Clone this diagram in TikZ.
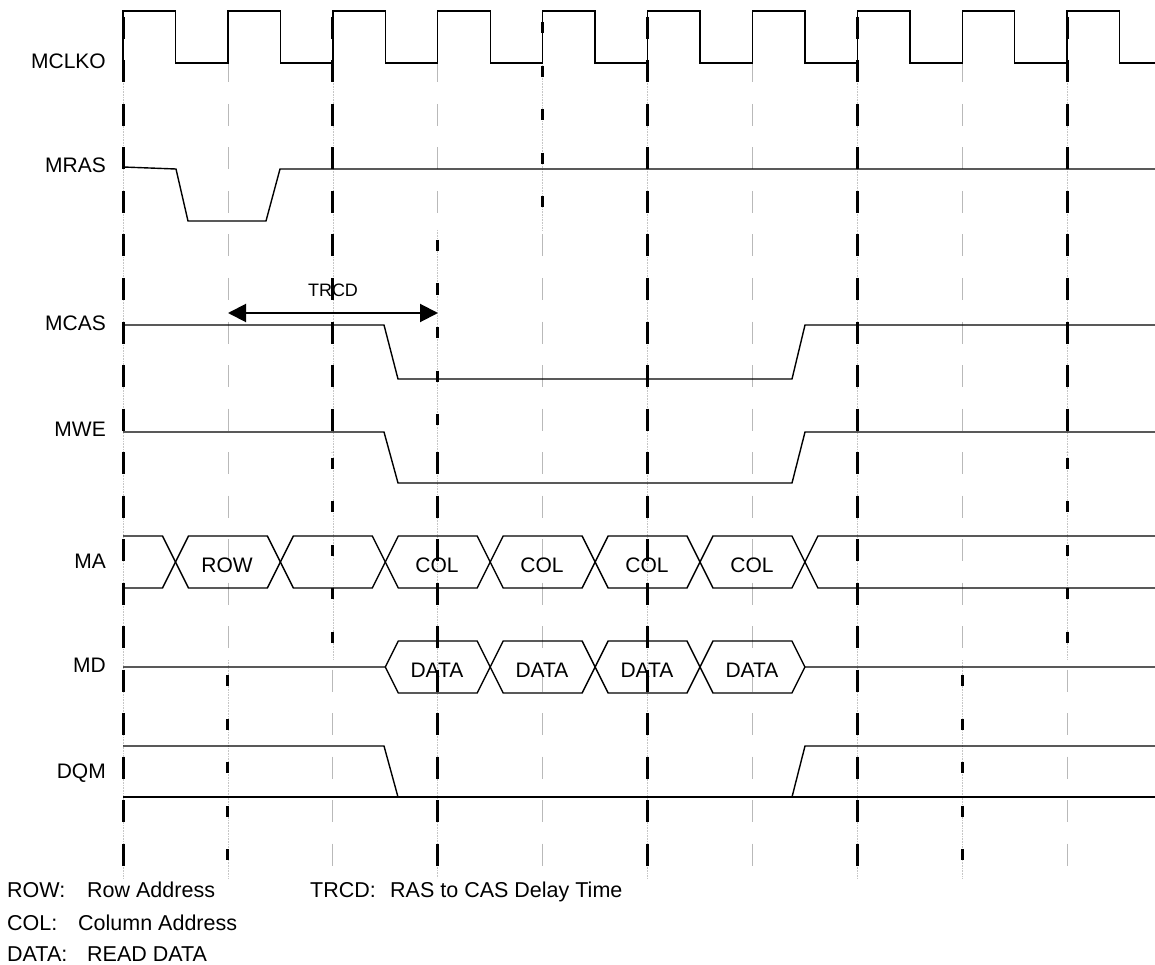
\documentclass[tikz,border=0pt]{standalone}
\usepackage{fontspec}
\setmainfont{Liberation Sans}
\usetikzlibrary{arrows.meta}

\begin{document}
\begin{tikzpicture}[x=1pt,y=-1pt,>={Triangle[length=18pt,width=18pt]},
  sig/.style={line width=1.4pt,line join=miter},
  gridgray/.style={gray!55,line width=0.7pt,dash pattern=on 22pt off 21.5pt},
  griddot/.style={gray!45,line width=0.6pt,densely dotted},
  gridlong/.style={line width=3pt,dash pattern=on 22pt off 21.5pt},
  gridshort/.style={line width=3pt,dash pattern=on 11pt off 32.5pt},
  siglabel/.style={anchor=base east,inner sep=0pt,font=\fontsize{21}{25}\selectfont},
  buslabel/.style={anchor=base,inner sep=0pt,font=\fontsize{21}{25}\selectfont},
  keylabel/.style={anchor=base west,inner sep=0pt,font=\fontsize{21.5}{26}\selectfont}]
\useasboundingbox (0,0) rectangle (1155,965);
\clip (0,0) rectangle (1155,965);
\def\xo{123}\def\per{104.9}
\foreach \k/\ya/\yb in {0/17/878,1/660/878,2/17/660,3/230/878,4/17/230,5/17/878,7/17/878,8/660/878,9/17/660}
  \draw[griddot] ({\xo+\k*\per},\ya) -- ({\xo+\k*\per},\yb);
\foreach \k/\ya/\yb in {1/60.5/660,2/669.5/878,3/60.5/230,4/234.5/878,6/60.5/878,8/60.5/660,9/669.5/878}
  \draw[gridgray] ({\xo+\k*\per},\ya) -- ({\xo+\k*\per},\yb);
\foreach \k/\ya/\yb in {0/17/878,2/17/452,3/452/878,5/17/878,7/17/878,9/17/452}
  \draw[gridlong] ({\xo+\k*\per},\ya) -- ({\xo+\k*\per},\yb);
\foreach \k/\ya/\yb in {1/675/878,2/457.5/660,3/240/452,4/22.5/230,8/675/878,9/457.5/660}
  \draw[gridshort] ({\xo+\k*\per},\ya) -- ({\xo+\k*\per},\yb);
\node[siglabel] (mclko) at (106,69) {MCLKO};
\node[siglabel] (mras) at (106,173) {MRAS};
\node[siglabel] (mcas) at (106,330) {MCAS};
\node[siglabel] (mwe) at (106,436) {MWE};
\node[siglabel] (ma) at (106,568) {MA};
\node[siglabel] (md) at (106,672) {MD};
\node[siglabel] (dqm) at (106,778) {DQM};
\draw[sig] (\xo,63) \foreach \k in {0,...,9}{ -- ++(0,-52) -- ++(52.5,0) -- ++(0,52) -- ++(52.4,0)};
\draw[sig] (123,167) -- (176,169) -- (188,221) -- (266,221) -- (280,169) -- (1155,169);
\draw[sig] (123,325) -- (384,325) -- (398,379) -- (792,379) -- (805,325) -- (1155,325);
\draw[sig] (123,432) -- (384,432) -- (398,483) -- (792,483) -- (805,432) -- (1155,432);
\draw[sig] (123,536) -- (162.5,536) -- (188.5,588) -- (267.4,588) -- (293.4,536) -- (372.3,536) -- (398.3,588) -- (477.2,588) -- (503.2,536) -- (582.1,536) -- (608.1,588) -- (687,588) -- (713,536) -- (791.9,536) -- (817.9,588) -- (1155,588);
\draw[sig] (123,588) -- (162.5,588) -- (188.5,536) -- (267.4,536) -- (293.4,588) -- (372.3,588) -- (398.3,536) -- (477.2,536) -- (503.2,588) -- (582.1,588) -- (608.1,536) -- (687,536) -- (713,588) -- (791.9,588) -- (817.9,536) -- (1155,536);
\draw[sig] (123,667) -- (385.3,667) -- (398.3,641) -- (477.2,641) -- (503.2,693) -- (582.1,693) -- (608.1,641) -- (687,641) -- (713,693) -- (791.9,693) -- (804.9,667) -- (1155,667);
\draw[sig] (385.3,667) -- (398.3,693) -- (477.2,693) -- (503.2,641) -- (582.1,641) -- (608.1,693) -- (687,693) -- (713,641) -- (791.9,641) -- (804.9,667);
\draw[sig] (123,746) -- (384,746) -- (398,797); \draw[sig] (123,797) -- (1155,797);
\draw[sig] (792,797) -- (805,746) -- (1155,746);
\node[buslabel] (row) at (227,572) {ROW};
\node[buslabel] (cola) at (437,572) {COL}; \node[buslabel] (colb) at (542,572) {COL};
\node[buslabel] (colc) at (647,572) {COL}; \node[buslabel] (cold) at (752,572) {COL};
\node[buslabel] (dataa) at (437,677) {DATA}; \node[buslabel] (datab) at (542,677) {DATA};
\node[buslabel] (datac) at (647,677) {DATA}; \node[buslabel] (datad) at (752,677) {DATA};
\coordinate (trcdA) at (228,313); \coordinate (trcdB) at (438,313);
\draw[<->,line width=2pt] (trcdA) -- (trcdB);
\node[anchor=base,inner sep=0pt,font=\fontsize{18}{21}\selectfont] (trcd) at (333,297) {TRCD};
\node[keylabel] (keyrow) at (7,897) {ROW:}; \node[keylabel] (txtrow) at (87,897) {Row Address};
\node[keylabel] (keycol) at (7,930) {COL:}; \node[keylabel] (txtcol) at (78,930) {Column Address};
\node[keylabel] (keydata) at (7,961) {DATA:}; \node[keylabel] (txtdata) at (87,961) {READ DATA};
\node[keylabel] (keytrcd) at (310,897) {TRCD:}; \node[keylabel] (txttrcd) at (390,897) {RAS to CAS Delay Time};
\end{tikzpicture}
\end{document}
